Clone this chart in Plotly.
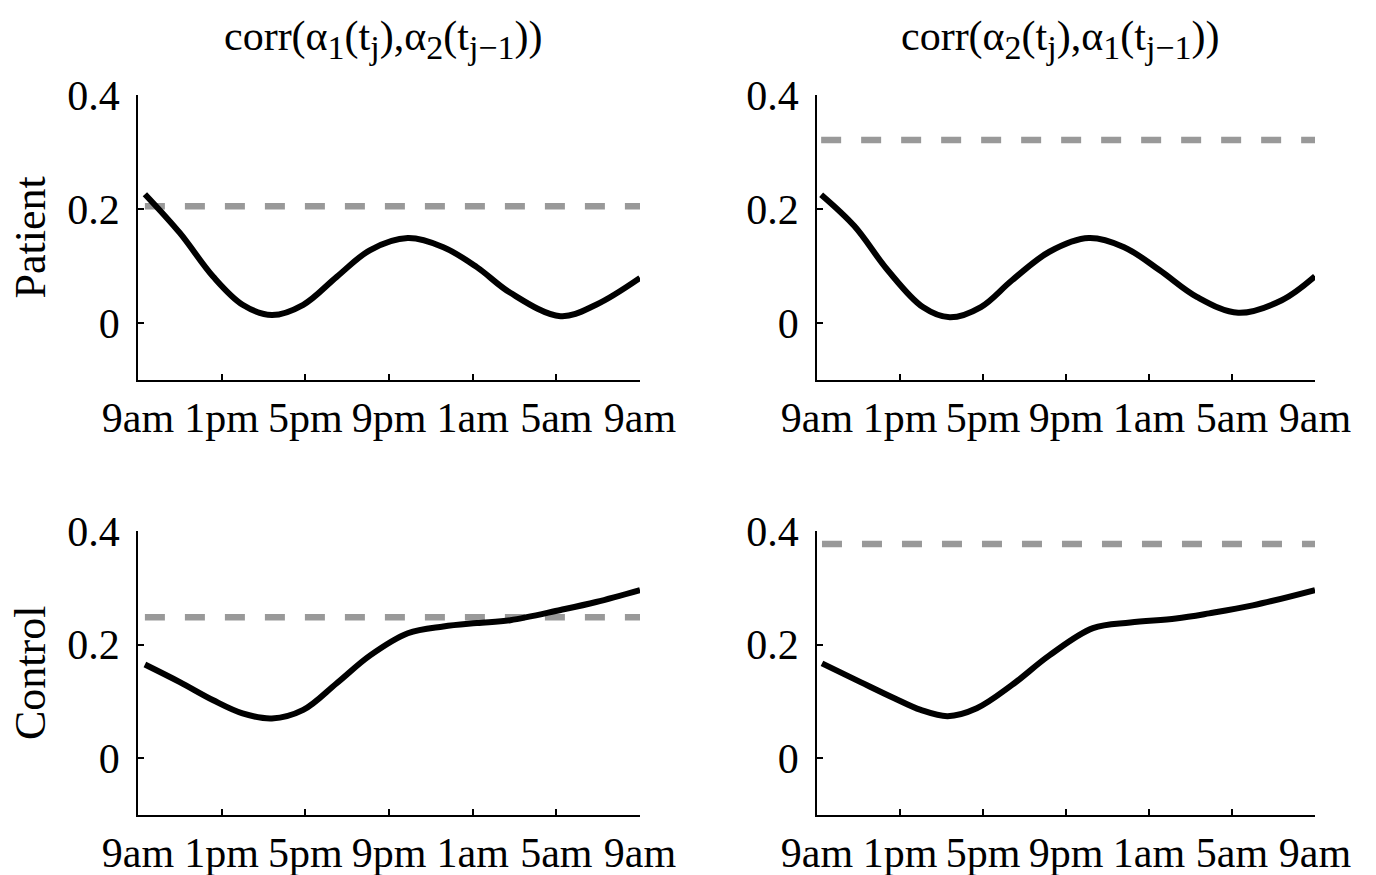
import plotly.graph_objects as go

# ---- data ----
hour_labels = ["9am", "1pm", "5pm", "9pm", "1am", "5am", "9am"]
hour_ticks = [0, 4, 8, 12, 16, 20, 24]
y_ticks = [0, 0.2, 0.4]
y_ticklabels = ["0", "0.2", "0.4"]

SUB = '<sub><span style="font-size:34px">{}</span></sub>'
col_titles = ["corr(α" + SUB.format("1") + "(t" + SUB.format("j") + "),α" + SUB.format("2")
              + "(t" + SUB.format("j−1") + "))",
              "corr(α" + SUB.format("2") + "(t" + SUB.format("j") + "),α" + SUB.format("1")
              + "(t" + SUB.format("j−1") + "))"]
row_titles = ["Patient", "Control"]

# Patient, corr(a1(tj), a2(tj-1))
p12_x = [0.33, 2.0, 3.6, 5.0, 6.4, 7.9, 9.5, 11.1, 12.9, 14.6, 16.2, 17.8, 20.2, 21.9, 24.0]
p12_y = [0.226, 0.158, 0.081, 0.032, 0.014, 0.032, 0.081, 0.128, 0.149, 0.133, 0.098, 0.053, 0.012, 0.032, 0.079]
p12_ref = 0.205

# Patient, corr(a2(tj), a1(tj-1))
p21_x = [0.2, 1.8, 3.4, 5.1, 6.4, 7.9, 9.4, 11.2, 13.1, 14.8, 16.5, 18.3, 20.3, 22.4, 24.0]
p21_y = [0.225, 0.170, 0.093, 0.028, 0.010, 0.028, 0.075, 0.125, 0.149, 0.133, 0.093, 0.046, 0.018, 0.040, 0.082]
p21_ref = 0.321

# Control, corr(a1(tj), a2(tj-1))
c12_x = [0.33, 2.0, 3.6, 5.0, 6.4, 7.9, 9.5, 11.1, 12.9, 14.6, 16.2, 17.8, 20.2, 21.9, 24.0]
c12_y = [0.165, 0.134, 0.102, 0.079, 0.070, 0.085, 0.132, 0.181, 0.220, 0.232, 0.238, 0.243, 0.261, 0.275, 0.296]
c12_ref = 0.248

# Control, corr(a2(tj), a1(tj-1))
c21_x = [0.24, 2.1, 3.7, 5.0, 6.3, 7.7, 9.4, 11.2, 13.3, 15.1, 17.3, 18.9, 21.0, 24.0]
c21_y = [0.167, 0.134, 0.106, 0.085, 0.074, 0.088, 0.129, 0.181, 0.229, 0.239, 0.246, 0.255, 0.269, 0.296]
c21_ref = 0.377

panels = [
    (p12_x, p12_y, p12_ref, 0, 0),
    (p21_x, p21_y, p21_ref, 0, 1),
    (c12_x, c12_y, c12_ref, 1, 0),
    (c21_x, c21_y, c21_ref, 1, 1),
]

W, H = 1376, 875
FONT = "Liberation Serif"
FS = 42

col_dom = [(138 / W, 640 / W), (817 / W, 1315 / W)]
row_dom = [((H - 380) / H, (H - 95) / H), ((H - 815) / H, (H - 531) / H)]

fig = go.Figure()
layout = {}
for i, (xs, ys, ref, r, c) in enumerate(panels):
    n = i + 1
    xa = "x" if n == 1 else f"x{n}"
    ya = "y" if n == 1 else f"y{n}"
    fig.add_trace(go.Scatter(x=[xs[0], 24], y=[ref, ref], mode="lines",
                             line=dict(color="#999999", width=6.5, dash="20px,20px"),
                             xaxis=xa, yaxis=ya, showlegend=False, hoverinfo="skip"))
    fig.add_trace(go.Scatter(x=xs, y=ys, mode="lines",
                             line=dict(color="black", width=6, shape="spline", smoothing=1.0),
                             xaxis=xa, yaxis=ya, showlegend=False))
    xkey = "xaxis" if n == 1 else f"xaxis{n}"
    ykey = "yaxis" if n == 1 else f"yaxis{n}"
    layout[xkey] = dict(domain=list(col_dom[c]), anchor=ya, range=[0, 24],
                        tickvals=hour_ticks, ticktext=hour_labels, automargin=False,
                        ticks="inside", ticklen=6, tickwidth=1.5, tickcolor="black",
                        showline=True, linecolor="black", linewidth=1.5,
                        showgrid=False, zeroline=False,
                        tickfont=dict(family=FONT, size=FS, color="black"))
    layout[ykey] = dict(domain=list(row_dom[r]), anchor=xa, range=[-0.1, 0.4],
                        tickvals=y_ticks, ticktext=y_ticklabels, automargin=False,
                        ticks="inside", ticklen=6, tickwidth=1.5, tickcolor="black",
                        showline=True, linecolor="black", linewidth=1.5,
                        showgrid=False, zeroline=False, ticklabelstandoff=8,
                        tickfont=dict(family=FONT, size=FS, color="black"))

annotations = []
for c in range(2):
    annotations.append(dict(text=col_titles[c], xref="paper", yref="paper",
                            x=(col_dom[c][0] + col_dom[c][1]) / 2 - 6 / W, y=(H - 40) / H,
                            xanchor="center", yanchor="middle", showarrow=False,
                            font=dict(family=FONT, size=42, color="black")))
for r in range(2):
    annotations.append(dict(text=row_titles[r], xref="paper", yref="paper",
                            x=30 / W, y=(row_dom[r][0] + row_dom[r][1]) / 2,
                            xanchor="center", yanchor="middle", textangle=-90,
                            showarrow=False,
                            font=dict(family=FONT, size=44, color="black")))

fig.update_layout(**layout)
fig.update_layout(width=W, height=H,
                  margin=dict(l=0, r=0, t=0, b=0, pad=0, autoexpand=False),
                  plot_bgcolor="white", paper_bgcolor="white",
                  annotations=annotations, showlegend=False)
html = fig.to_html(include_plotlyjs=True, full_html=True,
                   config={"displayModeBar": False})
html = html.replace("<head>", "<head><style>html,body{margin:0;padding:0;overflow:hidden;}</style>", 1)
with open("out.html", "w", encoding="utf-8") as f:
    f.write(html)
